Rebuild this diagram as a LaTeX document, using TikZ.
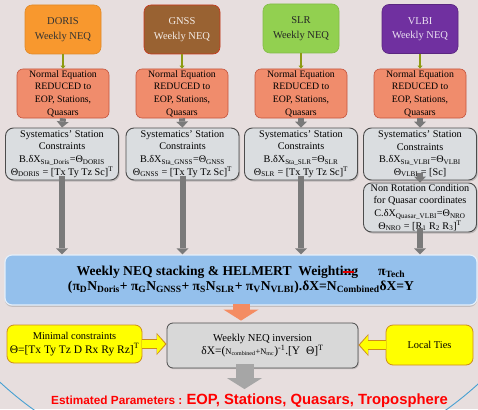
\documentclass[tikz,border=0pt]{standalone}
\usepackage{amsmath}
\usepackage{fontspec}
\setmainfont{Liberation Serif}
\setsansfont{Liberation Sans}
\usepackage{xcolor}
\usepackage{tikz}
\usetikzlibrary{arrows.meta,positioning,calc,shadows}

\definecolor{bgpink}{RGB}{231,222,222}
\definecolor{dorisor}{RGB}{248,152,46}
\definecolor{gnssbr}{RGB}{153,98,50}
\definecolor{slrgr}{RGB}{146,208,80}
\definecolor{vlbipu}{RGB}{112,48,160}
\definecolor{neqsal}{RGB}{240,140,108}
\definecolor{neqedge}{RGB}{196,84,62}
\definecolor{sysgray}{RGB}{218,221,224}
\definecolor{stackblue}{RGB}{148,192,236}
\definecolor{tiesyel}{RGB}{255,255,0}
\definecolor{tiesedge}{RGB}{205,140,30}
\definecolor{arrgray}{RGB}{122,122,122}
\definecolor{invgray}{RGB}{216,216,216}
\definecolor{salarr}{RGB}{244,140,98}
\definecolor{circblue}{RGB}{70,160,210}

\begin{document}
\begin{tikzpicture}[x=1pt,y=-1pt,
  tech/.style={rounded corners=7pt, minimum width=76pt, minimum height=49pt,
    align=center, inner sep=1pt, line width=0.6pt, font=\fontsize{10.5}{14.5}\selectfont},
  neq/.style={rounded corners=6pt, fill=neqsal, draw=neqedge, line width=0.6pt,
    minimum width=92pt, minimum height=49pt, align=center, inner sep=0pt,
    font=\fontsize{9.8}{12.6}\selectfont},
  syst/.style={rounded corners=8pt, fill=sysgray, draw=black!70, line width=0.9pt,
    minimum width=113pt, minimum height=52pt, align=center, inner sep=0pt,
    font=\fontsize{10.2}{12.6}\selectfont,
    drop shadow={shadow xshift=1.2pt, shadow yshift=-1.5pt, opacity=0.4}},
  stackbox/.style={rounded corners=7pt, fill=stackblue, draw=white!75!stackblue,
    line width=1.2pt, minimum width=472pt, minimum height=50pt, align=center,
    inner sep=0pt, font=\bfseries\fontsize{13.6}{15}\selectfont,
    drop shadow={shadow xshift=0pt, shadow yshift=-1.8pt, opacity=0.35}},
  ybox/.style={rounded corners=7pt, fill=tiesyel, draw=tiesedge, line width=0.8pt,
    align=center, inner sep=0pt, font=\fontsize{10.4}{13.5}\selectfont},
  invbox/.style={rounded corners=6pt, fill=invgray, draw=black!70, line width=0.8pt,
    minimum width=191pt, minimum height=45pt, align=center, inner sep=0pt,
    font=\fontsize{10.6}{13}\selectfont,
    drop shadow={shadow xshift=1pt, shadow yshift=-1.2pt, opacity=0.3}},
  est/.style={inner sep=0pt, text=red, font=\sffamily\bfseries\fontsize{14.8}{16}\selectfont},
  thinarr/.style={draw=olive!65!green!80!orange, line width=2.4pt,
    -{Triangle[width=5pt,length=3pt,line width=0pt]}},
  grayarr/.style={draw=arrgray, line width=6pt,
    -{Triangle[width=12pt,length=6pt,line width=0pt]}},
  yarrout/.style={draw=tiesedge, line width=10pt,
    -{Triangle[width=22pt,length=10pt,line width=0pt]}},
  yarrin/.style={draw=tiesyel, line width=8pt, shorten >=1.5pt,
    -{Triangle[width=18.5pt,length=8pt,line width=0pt]}},
  fatarr/.style={line width=17pt, -{Triangle[width=35pt,length=11pt,line width=0pt]}}
]
  \useasboundingbox (0,0) rectangle (478,409);
  % 背景与底部的大圆
  \fill[bgpink] (0,0) rectangle (478,409);
  \begin{scope}
    \clip (0,0) rectangle (478,409);
    \draw[circblue, line width=0.9pt] (240,122) circle [radius=354];
  \end{scope}

  % 四种技术的周 NEQ
  \node[tech, fill=dorisor, draw=dorisor!90!black, text=black!80] (doris) at (63,29.5) {DORIS\\Weekly NEQ};
  \node[tech, fill=gnssbr, draw=red!45!gnssbr, text=white!88!gnssbr] (gnss) at (182,29.5) {GNSS\\Weekly NEQ};
  \node[tech, fill=slrgr, draw=slrgr!90!black, text=black!85] (slr) at (301,28.5) {SLR\\Weekly NEQ};
  \node[tech, fill=vlbipu, draw=vlbipu!80!black, text=white!85!vlbipu] (vlbi) at (420,29) {VLBI\\Weekly NEQ};

  % 约化后的法方程
  \node[neq] (doris-neq) at (63,93.5) {Normal Equation\\REDUCED to\\EOP, Stations,\\Quasars};
  \node[neq] (gnss-neq) at (182,93.5) {Normal Equation\\REDUCED to\\EOP, Stations,\\Quasars};
  \node[neq] (slr-neq) at (301,93.5) {Normal Equation\\REDUCED to\\EOP, Stations,\\Quasars};
  \node[neq] (vlbi-neq) at (420,93.5) {Normal Equation\\REDUCED to\\EOP, Stations,\\Quasars};

  % 系统性约束
  \node[syst] (doris-sys) at (62,154) {Systematics' Station\\Constraints\\B.δX\textsubscript{Sta\_Doris}=Θ\textsubscript{DORIS}\\Θ\textsubscript{DORIS} = [Tx Ty Tz Sc]\textsuperscript{T}};
  \node[syst] (gnss-sys) at (182.5,154) {Systematics' Station\\Constraints\\B.δX\textsubscript{Sta\_GNSS}=Θ\textsubscript{GNSS}\\Θ\textsubscript{GNSS} = [Tx Ty Tz Sc]\textsuperscript{T}};
  \node[syst] (slr-sys) at (301,154) {Systematics' Station\\Constraints\\B.δX\textsubscript{Sta\_SLR}=Θ\textsubscript{SLR}\\Θ\textsubscript{SLR} = [Tx Ty Tz Sc]\textsuperscript{T}};
  \node[syst] (vlbi-sys) at (420,154) {Systematics' Station\\Constraints\\B.δX\textsubscript{Sta\_VLBI}=Θ\textsubscript{VLBI}\\Θ\textsubscript{VLBI} = [Sc]};
  \node[syst, minimum height=49pt] (nro) at (420,207.5) {Non Rotation Condition\\for Quasar coordinates\\C.δX\textsubscript{Quasar\_VLBI}=Θ\textsubscript{NRO}\\Θ\textsubscript{NRO} = [R\textsubscript{1} R\textsubscript{2} R\textsubscript{3}]\textsuperscript{T}};

  % 叠加与加权
  \node[stackbox] (stack) at (241,280) {Weekly NEQ stacking \& HELMERT\ \ Weighting\hspace{20pt}π\textsubscript{Tech}\\
    (π\textsubscript{D}N\textsubscript{Doris}+ π\textsubscript{G}N\textsubscript{GNSS}+ π\textsubscript{S}N\textsubscript{SLR}+ π\textsubscript{V}N\textsubscript{VLBI}).δX=N\textsubscript{Combined}δX=Y};
  \draw[red!90!black, line width=1.3pt] (343,272) -- (354,272);

  % 求逆与约束
  \node[ybox, minimum width=135pt, minimum height=38pt] (mini) at (74.5,344) {Minimal constraints\\{\fontsize{11.5}{13.5}\selectfont Θ=[Tx Ty Tz D Rx Ry Rz]\textsuperscript{T}}};
  \node[invbox] (inv) at (262.5,345.5) {Weekly NEQ inversion\\{\fontsize{11.5}{13.5}\selectfont δX=({\fontsize{8.5}{10}\selectfont N\textsubscript{combined}+N\textsubscript{mc}})\textsuperscript{-1}.[Y\ \ Θ]\textsuperscript{T}}};
  \node[ybox, minimum width=87pt, minimum height=40pt] (ties) at (429.5,345) {Local Ties};

  \node[est, anchor=base] (est) at (249.5,404) {{\fontsize{11.8}{13}\selectfont Estimated Parameters :}\ EOP, Stations, Quasars, Troposphere};

  % 箭头
  \foreach \t in {doris,gnss,slr,vlbi}{
    \draw[thinarr] (\t.south) -- (\t-neq.north);
    \draw[grayarr] (\t-neq.south) -- (\t-sys.north);
  }
  \foreach \t in {doris,gnss,slr}
    \draw[grayarr] ($(\t-sys.south)+(0,-4)$) -- (\t-sys.south |- stack.north);
  \draw[grayarr] ($(vlbi-sys.south)+(0,-7)$) -- (nro.north);
  \draw[grayarr] ($(nro.south)+(0,-4)$) -- (nro.south |- stack.north);

  \draw[fatarr, salarr, shorten >=2pt] ($(stack.south)+(0,-2)$) -- (stack.south |- inv.north);
  \draw[fatarr, black!35, line width=18pt, shorten >=4pt] ($(inv.south -| stack.south)+(3.5,-4)$) -- ($(est.north -| stack.south)+(3.5,0)$);

  \draw[yarrout] (mini.east) -- (mini.east -| inv.west);
  \draw[yarrin] (mini.east) -- (mini.east -| inv.west);
  \draw[yarrout] (ties.west) -- (ties.west -| inv.east);
  \draw[yarrin] (ties.west) -- (ties.west -| inv.east);
\end{tikzpicture}
\end{document}
